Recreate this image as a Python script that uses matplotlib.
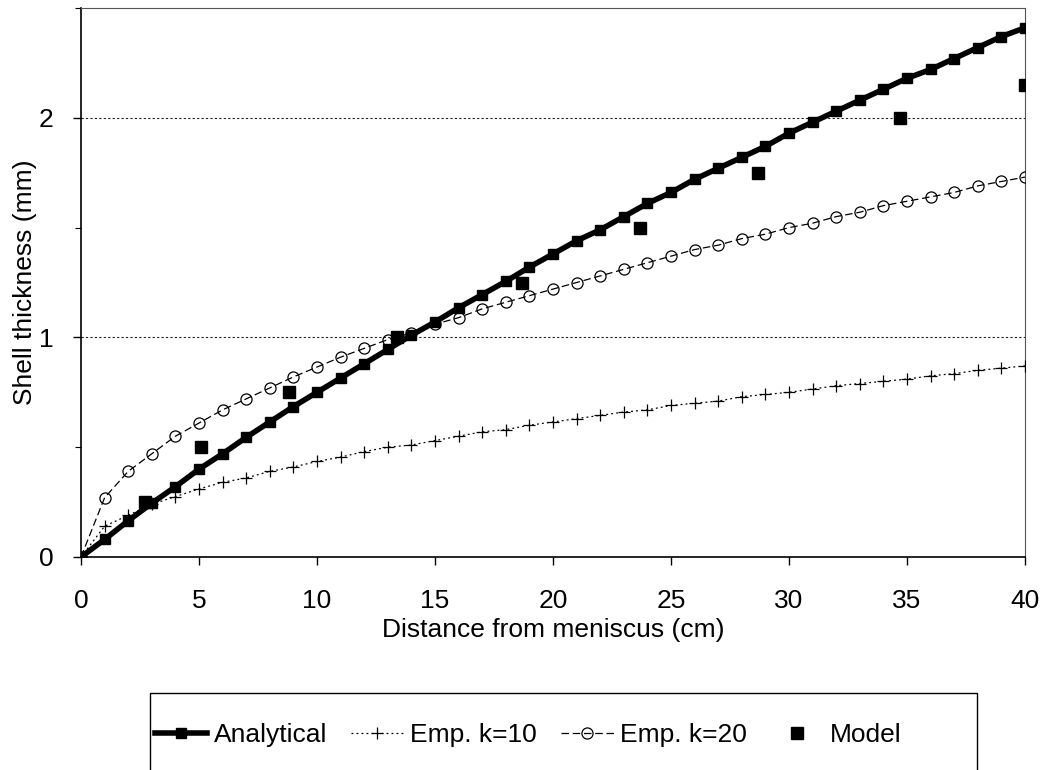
import matplotlib
matplotlib.use("Agg")
import matplotlib.pyplot as plt
from matplotlib.patches import Rectangle
from matplotlib.ticker import MultipleLocator

plt.rcParams['font.family'] = ['Liberation Sans', 'DejaVu Sans']

x_cm = list(range(0, 41))
analytical = [0.00, 0.08, 0.165, 0.245, 0.32, 0.40, 0.47, 0.545, 0.615, 0.685,
              0.75, 0.815, 0.88, 0.945, 1.01, 1.07, 1.135, 1.195, 1.255, 1.32,
              1.38, 1.44, 1.49, 1.55, 1.61, 1.66, 1.72, 1.77, 1.82, 1.87,
              1.93, 1.98, 2.03, 2.08, 2.13, 2.18, 2.22, 2.27, 2.32, 2.37, 2.41]
emp_k10 = [0.00, 0.14, 0.19, 0.24, 0.275, 0.31, 0.34, 0.36, 0.39, 0.41,
           0.435, 0.455, 0.48, 0.50, 0.51, 0.53, 0.55, 0.57, 0.58, 0.60,
           0.615, 0.63, 0.645, 0.66, 0.67, 0.69, 0.70, 0.71, 0.73, 0.74,
           0.75, 0.765, 0.78, 0.79, 0.80, 0.81, 0.825, 0.835, 0.85, 0.86, 0.87]
emp_k20 = [0.00, 0.27, 0.39, 0.47, 0.55, 0.61, 0.67, 0.72, 0.77, 0.82,
           0.865, 0.91, 0.95, 0.99, 1.02, 1.06, 1.09, 1.13, 1.16, 1.19,
           1.22, 1.25, 1.28, 1.31, 1.34, 1.37, 1.40, 1.42, 1.45, 1.47,
           1.50, 1.52, 1.55, 1.57, 1.60, 1.62, 1.64, 1.66, 1.69, 1.71, 1.73]
model_x = [2.7, 5.1, 8.8, 13.4, 18.7, 23.7, 28.7, 34.7, 40.0]
model_y = [0.25, 0.50, 0.75, 1.00, 1.25, 1.50, 1.75, 2.00, 2.15]

fig = plt.figure(figsize=(10.41, 7.70), dpi=100)
ax = fig.add_axes([81/1041, 1 - 557/770, (1025-81)/1041, (557-8)/770])

ax.plot(x_cm, emp_k10, color='black', lw=0.9, linestyle=(0, (1.5, 2.5)),
        marker='+', markersize=8, markeredgewidth=0.9, label='Emp. k=10', zorder=3)
ax.plot(x_cm, emp_k20, color='black', lw=0.9, linestyle=(0, (6, 3)),
        marker='o', markersize=8, markerfacecolor='none', markeredgewidth=0.9,
        label='Emp. k=20', zorder=3)
ax.plot(x_cm, analytical, color='black', lw=4, marker='s', markersize=6.5,
        label='Analytical', zorder=4)
ax.plot(model_x, model_y, linestyle='none', color='black', marker='s',
        markersize=8, label='Model', zorder=5)

ax.set_xlim(0, 40)
ax.set_ylim(0, 2.5)
ax.xaxis.set_major_locator(MultipleLocator(5))
ax.yaxis.set_minor_locator(MultipleLocator(0.5))
ax.set_yticks([0, 1, 2])
ax.tick_params(axis='both', which='major', direction='out', length=6, width=1,
               labelsize=19)
ax.tick_params(axis='x', which='major', pad=17)
ax.tick_params(axis='y', which='major', pad=14)
ax.tick_params(axis='y', which='minor', direction='out', length=4, width=0.8)
for yv in (1, 2):
    ax.axhline(yv, color='#222222', lw=0.8, linestyle=(0, (2, 2)), zorder=1)

for s in ('left', 'bottom'):
    ax.spines[s].set_linewidth(1.2)
for s in ('top', 'right'):
    ax.spines[s].set_linewidth(0.8)
    ax.spines[s].set_color('#555555')

ax.set_xlabel('Distance from meniscus (cm)', fontsize=19, labelpad=4)
ax.set_ylabel('Shell thickness (mm)', fontsize=19, labelpad=1)

# legend frame
rect = Rectangle((150/1041, -0.05), (977-150)/1041, (770-693)/770 + 0.05,
                 transform=fig.transFigure, fill=False, edgecolor='black',
                 lw=1.0, clip_on=False)
fig.patches.append(rect)

handles, labels = ax.get_legend_handles_labels()
order = [2, 0, 1, 3]
leg = fig.legend([handles[i] for i in order], [labels[i] for i in order],
                 loc='center left', bbox_to_anchor=(144/1041, (770-735)/770),
                 borderaxespad=0, ncol=4, frameon=False, fontsize=19,
                 handlelength=2.0, handletextpad=0.25, columnspacing=0.9,
                 numpoints=1)

fig.savefig('out.png', dpi=100)
